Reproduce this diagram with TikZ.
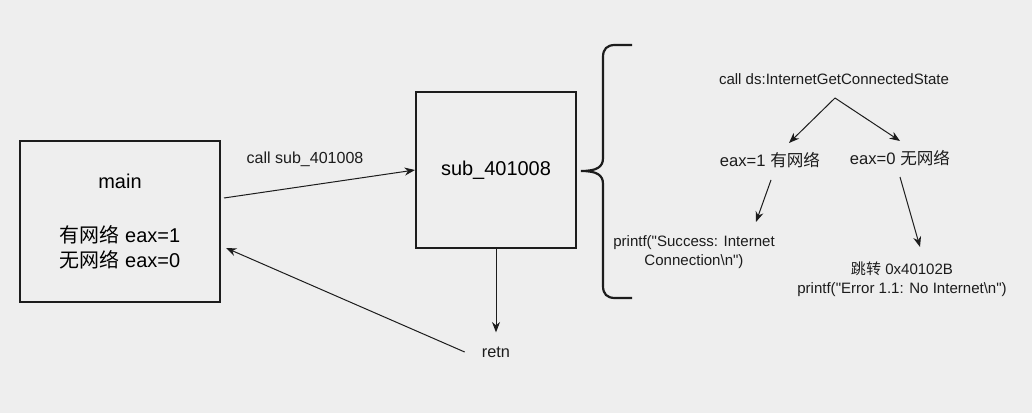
\documentclass[tikz,border=0pt]{standalone}
\usepackage{fontspec}
\setmainfont{Liberation Sans}
\newfontfamily\cjk{Noto Sans CJK SC}
\usetikzlibrary{calc,arrows.meta}
\definecolor{bg}{HTML}{EEEEEE}
\definecolor{ink}{HTML}{1C1C1C}
\def\cn#1{{\cjk #1}}
\def\q{\textquotedbl}

\begin{document}
\begin{tikzpicture}[x=0.025cm,y=-0.025cm,
	box/.style={draw=ink,line width=0.5mm,align=center,inner sep=0pt},
	txt/.style={inner sep=0pt,align=center,text=ink},
	arr/.style={draw=ink,line width=0.25mm,-{Stealth[length=2.6mm,width=2mm]}}]
		%%%%% START %%%%%
		
		\fill[bg] (0, 0) rectangle (1032, 413);
		
		\node[box,minimum width=5cm,minimum height=4.025cm,font=\fontsize{14.2}{17.8}\selectfont] (main) at (120, 221.5) {main\\[21pt]\cn{有网络} eax=1\\\cn{无网络} eax=0};
		\node[box,minimum width=4cm,minimum height=3.9cm,font=\fontsize{14.2}{17.8}\selectfont] (sub) at (496, 170) {sub\_401008};
		
		\node[txt,font=\fontsize{11.4}{14}\selectfont] (call) at (305, 159) {call sub\_401008};
		\node[txt,font=\fontsize{11.6}{14}\selectfont] (retn) at (496, 352) {retn};
		
		\draw[arr] ($(main.east)+(3,-23.5)$) -- (sub.west);
		\draw[arr] ($(retn.west)+(-17,0)$) -- ($(main.east)+(5,26.5)$);
		\draw[arr] (sub.south) -- ($(retn.north)+(0,-14)$);
		
		\draw[draw=ink,line width=0.55mm] (632, 45) -- (615, 45) .. controls (607, 45) and (603, 49) .. (603, 57) -- (603, 158) .. controls (603, 167) and (597, 171) .. (581, 171) .. controls (597, 171) and (603, 175) .. (603, 184) -- (603, 286) .. controls (603, 294) and (607, 298) .. (615, 298) -- (632, 298);
		
		\node[txt,font=\fontsize{10.7}{13.5}\selectfont] (ds) at (834, 79) {call ds:InternetGetConnectedState};
		\node[txt,font=\fontsize{11.8}{14}\selectfont] (eax1) at (770, 160) {eax=1 \cn{有网络}};
		\node[txt,font=\fontsize{11.8}{14}\selectfont] (eax0) at (900, 158) {eax=0 \cn{无网络}};
		\node[txt,font=\fontsize{10.7}{13.5}\selectfont] (succ) at (694, 252.5) {printf(\q Success: Internet\\Connection\textbackslash n\q)};
		\node[txt,font=\fontsize{10.7}{13.5}\selectfont] (jmp) at (902, 279.5) {\cn{跳转} 0x40102B\\printf(\q Error 1.1: No Internet\textbackslash n\q)};
		
		\draw[arr] ($(ds)+(1,19)$) -- ($(eax1)+(19,-17)$);
		\draw[arr] ($(ds)+(1,19)$) -- ($(eax0)+(0,-17)$);
		\draw[arr] ($(eax1)+(1,20)$) -- ($(succ)+(62,-30.5)$);
		\draw[arr] ($(eax0)+(0,19)$) -- ($(jmp)+(18,-32.5)$);
		
		%%%%% END %%%%%
	\end{tikzpicture}
\end{document}
